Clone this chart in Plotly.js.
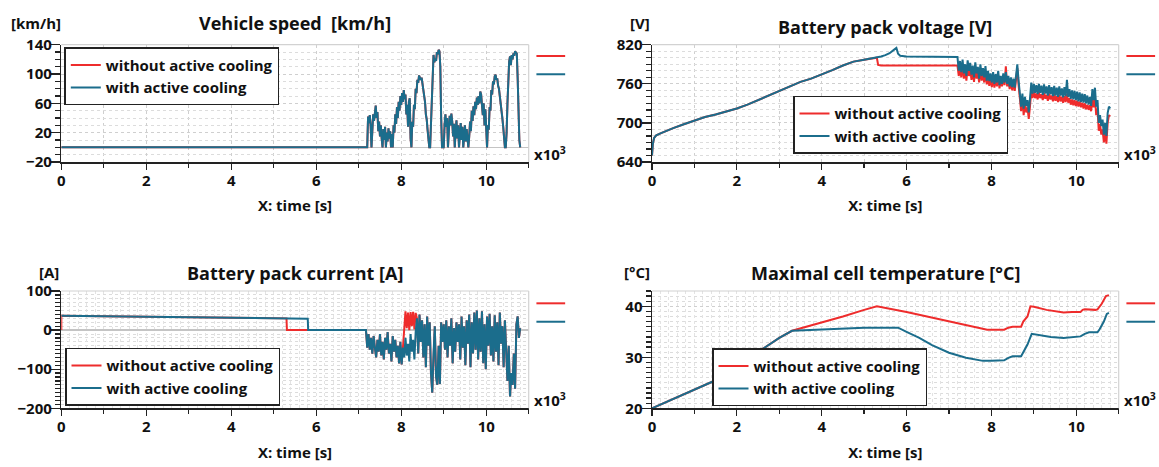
<!DOCTYPE html>
<html>
<head>
<meta charset="utf-8">
<script src="https://cdn.plot.ly/plotly-3.0.1.min.js"></script>
<style>html,body{margin:0;padding:0;background:#fff;}#chart{width:1159px;height:467px;}</style>
</head>
<body>
<div id="chart"></div>
<script>
// ---------------- DATA ----------------
const seriesNames = ['without active cooling', 'with active cooling'];
const timeTicks = [0,2000,4000,6000,8000,10000];
const timeTickText = ['0','2','4','6','8','10'];

// Vehicle speed [km/h] (same drive cycle for both variants)
const speedTime = [0,7190,
 7200,7220,7240,7260,7280,7300,7320,7340,7360,7380,7400,7420,7440,7460,7480,7500,7520,7540,7560,7580,7600,7620,7640,7660,7680,7700,7720,7740,7760,7780,
 7800,7820,7840,7860,7880,7900,7920,7940,7960,7980,8000,8020,8040,8060,8080,8100,8120,8140,8160,8180,8200,8220,
 8240,8260,8280,8300,8320,8340,8360,8380,8400,8420,8440,8460,8480,8500,8520,8540,8560,8580,8600,8620,8640,8660,
 8680,8700,8720,8740,8760,8780,8800,8820,8840,8860,8880,8900,8920,8940,8960,8980,
 9000,9020,9040,9060,9080,9100,9120,9140,9160,9180,9200,9220,9240,9260,9280,9300,9320,9340,9360,9380,9400,9420,9440,9460,9480,9500,9520,9540,9560,9580,
 9600,9620,9640,9660,9680,9700,9720,9740,9760,9780,9800,9820,9840,9860,9880,9900,9920,9940,9960,9980,10000,10020,
 10040,10060,10080,10100,10120,10140,10160,10180,10200,10220,10240,10260,10280,10300,10320,10340,10360,10380,10400,10420,10440,
 10460,10480,10500,10520,10540,10560,10580,10600,10620,10640,10660,10680,10700,10720,10740,10760,10780,10800];
const speedKmh = [0,0,
 0,42,33,44,30,0,28,45,36,52,57,40,48,22,35,15,30,12,0,25,10,28,0,20,8,26,12,22,0,18,
 0,30,20,45,32,55,40,62,50,70,58,74,62,78,66,72,45,58,28,62,67,12,
 0,35,28,58,52,80,74,92,88,98,96,92,95,86,82,68,62,45,38,24,15,0,
 0,30,70,105,126,116,121,118,130,127,133,131,110,40,0,0,
 0,30,45,28,40,0,25,43,30,46,35,15,32,0,22,37,12,30,0,20,33,10,28,0,18,30,8,25,12,0,
 15,35,22,50,36,56,44,62,52,68,58,70,60,76,72,62,44,60,30,52,18,0,
 30,24,55,50,78,72,90,86,97,99,92,94,84,80,70,62,50,40,28,15,0,
 0,20,60,95,117,124,112,126,120,128,125,131,130,128,95,50,10,0];

// Common time grid for the drive part (s)
const driveTime = [7200,7230,7260,7290,7320,7350,7380,7410,7440,7470,
 7500,7530,7560,7590,7620,7650,7680,7710,7740,7770,
 7800,7830,7860,7890,7920,7950,7980,8010,8040,8070,
 8100,8130,8160,8190,8220,8250,8280,8310,8340,8370,
 8400,8430,8460,8490,8520,8550,8580,8610,8640,8670,
 8700,8730,8760,8790,8820,8850,8880,8910,8940,8970,
 9000,9030,9060,9090,9120,9150,9180,9210,9240,9270,
 9300,9330,9360,9390,9420,9450,9480,9510,9540,9570,
 9600,9630,9660,9690,9720,9750,9780,9810,9840,9870,
 9900,9930,9960,9990,10020,10050,10080,10110,10140,10170,
 10200,10230,10260,10290,10320,10350,10380,10410,10440,10470,
 10500,10530,10560,10590,10620,10650,10680,10710,10740,10770,
 10800];

// Battery pack voltage [V]
const voltStartTime = [0,20,50,100,200,300,500,750,1000,1250,1500,1750,2000,2250,2500,2750,3000,3250,3500,3750,4000,4250,4500,4750,5000,5200,5300];
const voltStart = [650,668,677,681,684,687,692,698,704,709,713,717,722,728,735,742,750,757,763,768,774,781,788,794,797,799,800];
const voltRestTimeWithout = [5330,5400,7170];
const voltRestWithout = [789,788,788];
const voltRestTimeWith = [5400,5500,5600,5700,5760,5800,5850,6000,7170];
const voltRestWith = [802,804,807,812,815,806,803,802,801];
const voltDriveWithout = [788,772,785,770,790,768,782,765,786,772,
 784,766,781,763,785,768,778,762,782,765,
 776,762,779,759,772,757,769,755,770,754,
 768,756,773,753,766,756,770,758,787,756,
 765,752,764,750,762,749,768,784,758,735,
 718,738,712,732,716,724,706,726,750,738,
 748,738,745,736,747,738,744,735,746,737,
 743,734,745,736,742,733,744,734,741,732,
 743,733,740,731,741,732,745,731,738,728,
 736,727,735,726,734,725,733,724,731,722,
 730,721,728,720,727,718,736,724,738,712,
 722,688,698,682,690,670,685,668,700,712,
 710];
const voltDriveWith = [801,780,795,778,797,776,790,772,796,780,
 792,774,788,770,793,776,786,768,790,772,
 784,770,787,765,780,764,776,762,778,760,
 775,762,780,758,772,760,776,762,778,760,
 772,756,770,755,768,754,775,790,765,740,
 725,745,722,740,726,735,716,738,762,745,
 760,746,758,744,760,746,757,743,759,745,
 756,742,758,744,755,741,757,742,754,740,
 756,742,753,739,755,741,766,740,752,737,
 750,736,749,735,748,733,747,732,745,731,
 744,730,742,728,740,726,752,735,754,725,
 735,700,712,695,705,682,700,680,715,725,
 722];

// Battery pack current [A]
const curStartTimeWithout = [0,1,2000,4000,5300,5310,7170];
const curStartWithout = [0,37,34,31.5,30,0,0];
const curStartTimeWith = [0,2000,4000,5300,5800,5810,7170];
const curStartWith = [37,34,31.5,30,29,0,0];
const curDriveWithout = [-45,-10,-50,-20,-60,-15,-45,-70,-25,-55,
 -10,-65,-30,-75,-20,-50,-5,-60,-35,-80,
 -15,-55,-25,-70,-40,-85,-30,-88,-45,0,
 48,5,45,0,46,10,47,2,44,30,
 -60,40,-30,25,-70,15,-95,35,-40,20,
 -110,-160,-60,10,-120,-140,-40,-138,20,-30,
 15,-50,25,-70,10,-40,30,-85,5,-55,
 20,-30,15,-75,35,-45,10,-90,25,-35,
 40,-95,20,-60,45,-50,50,-75,30,-55,
 48,-85,15,-100,35,-40,42,-65,10,-80,
 38,-55,20,-90,45,-35,10,-95,25,-60,
 -130,-40,-170,-110,-140,-60,-150,15,35,-20,
 5];
const curDriveWith = [-45,-10,-50,-20,-60,-15,-45,-70,-25,-55,
 -10,-65,-30,-75,-20,-50,-5,-60,-35,-80,
 -15,-55,-25,-70,-40,-85,-30,-88,-45,-70,
 -20,-65,-35,-80,-10,-55,-25,-75,-5,30,
 -60,40,-30,25,-70,15,-95,35,-40,20,
 -110,-160,-60,10,-120,-140,-40,-138,20,-30,
 15,-50,25,-70,10,-40,30,-85,5,-55,
 20,-30,15,-75,35,-45,10,-90,25,-35,
 40,-95,20,-60,45,-50,50,-75,30,-55,
 48,-85,15,-100,35,-40,42,-65,10,-80,
 38,-55,20,-90,45,-35,10,-95,25,-60,
 -130,-40,-170,-110,-140,-60,-150,15,35,-20,
 5];

// Maximal cell temperature [°C]
const tempTimeWithout = [0,500,1000,1420,2000,2600,3000,3300,4000,4500,5000,5300,6000,6500,7000,7500,7900,8300,8400,8500,8700,8750,8850,8920,9000,9300,9700,9900,10100,10150,10200,10450,10500,10600,10700,10770];
const tempWithout = [20,21.8,23.6,25.2,28.3,31.7,33.8,35.2,36.8,38.0,39.3,40.0,38.9,38.0,37.0,36.1,35.4,35.4,35.8,36.0,36.0,37.0,38.0,40.0,39.9,39.3,38.8,38.9,38.9,39.3,39.4,39.3,39.4,40.5,42.0,42.2];
const tempTimeWith = [0,500,1000,1420,2000,2600,3000,3300,4000,5000,5400,5800,6000,6300,6600,7000,7400,7800,8000,8300,8400,8500,8700,8750,8850,8950,9100,9400,9700,9900,10100,10200,10300,10500,10550,10650,10720,10770];
const tempWith = [20,21.8,23.6,25.2,28.3,31.7,33.8,35.2,35.5,35.8,35.8,35.8,35.0,33.8,32.4,30.9,29.9,29.3,29.3,29.4,29.9,30.2,30.2,31.0,32.5,34.6,34.4,34.0,33.8,34.0,34.1,34.6,34.9,34.9,35.5,37.0,38.5,38.7];

// ---------------- STYLE ----------------
const FONT = 'Open Sans, Noto Sans, DejaVu Sans, sans-serif';
const RED = '#ee2c2c';
const BLUE = '#1b6d8c';
const INK = '#111111';

const panels = [
  {x:'x',  y:'y',  legend:'legend',  title:'Vehicle speed  [km/h]', unit:'[km/h]'},
  {x:'x2', y:'y2', legend:'legend2', title:'Battery pack voltage [V]', unit:'[V]'},
  {x:'x3', y:'y3', legend:'legend3', title:'Battery pack current [A]', unit:'[A]'},
  {x:'x4', y:'y4', legend:'legend4', title:'Maximal cell temperature [°C]', unit:'[°C]'}
];

function tr(p, idx, xs, ys, grp) {
  return {
    type:'scatter', mode:'lines', x:xs, y:ys, xaxis:p.x, yaxis:p.y,
    name:seriesNames[idx], legend:p.legend, legendgroup:grp,
    line:{color: idx===0 ? RED : BLUE, width:2}, hoverinfo:'skip'
  };
}

const traces = [
  tr(panels[0],0,speedTime,speedKmh,'a0'),
  tr(panels[0],1,speedTime,speedKmh,'a1'),
  tr(panels[1],0,voltStartTime.concat(voltRestTimeWithout,driveTime),voltStart.concat(voltRestWithout,voltDriveWithout),'b0'),
  tr(panels[1],1,voltStartTime.concat(voltRestTimeWith,driveTime),voltStart.concat(voltRestWith,voltDriveWith),'b1'),
  tr(panels[2],0,curStartTimeWithout.concat(driveTime),curStartWithout.concat(curDriveWithout),'c0'),
  tr(panels[2],1,curStartTimeWith.concat(driveTime),curStartWith.concat(curDriveWith),'c1'),
  tr(panels[3],0,tempTimeWithout,tempWithout,'d0'),
  tr(panels[3],1,tempTimeWith,tempWith,'d1'),
  // empty helpers so the fine-grid overlay axes of the lower panels exist
  {type:'scatter', mode:'lines', x:[], y:[], xaxis:'x5', yaxis:'y3', showlegend:false, hoverinfo:'skip'},
  {type:'scatter', mode:'lines', x:[], y:[], xaxis:'x6', yaxis:'y4', showlegend:false, hoverinfo:'skip'}
];

const W = 1159, H = 467;
const colX = [[61.3,528.7],[652,1118.7],[61.3,528.7],[652,1118.7]];
const rowY = [[44.7,162],[44.7,162],[291,408.3],[291,408.3]];
const yRanges = [[-20,140],[640,820],[-200,100],[20,43]];
const yDtick = [40,60,100,10];
const yMinor = [10,10,10,1];

const tickFont = {family:FONT, size:15, color:INK, weight:700};
const layout = {
  width:W, height:H, margin:{l:0,r:0,t:0,b:0},
  paper_bgcolor:'#ffffff', plot_bgcolor:'#ffffff',
  showlegend:true, annotations:[], shapes:[]
};

panels.forEach((p,i) => {
  const sx = i===0 ? '' : String(i+1);
  const isBottom = i >= 2;
  layout['xaxis'+sx] = {
    domain:[colX[i][0]/W, colX[i][1]/W], anchor:p.y, range:[0,11000],
    tickmode:'array', tickvals:timeTicks, ticktext:timeTickText,
    ticks:'outside', ticklen:6, tickwidth:1.3, tickcolor:'#222',
    showline:true, linecolor:'#222', linewidth:1.5,
    showgrid:true, gridcolor:'#cfcfcf', griddash:'dot', gridwidth:1,
    minor:{dtick:1000, tick0:0, ticks:'outside', ticklen:4, tickwidth:1.3, tickcolor:'#222', showgrid:true, gridcolor:'#cfcfcf', griddash:'dot'},
    zeroline:false, tickfont:tickFont, ticklabelstandoff:-2, fixedrange:true,
    title:{text:'X: time [s]', font:{family:FONT, size:15, color:INK, weight:700}, standoff:12}
  };
  layout['yaxis'+sx] = {
    domain:[1-rowY[i][1]/H, 1-rowY[i][0]/H], anchor:p.x, range:yRanges[i],
    tick0:yRanges[i][0], dtick:yDtick[i],
    ticks:'outside', ticklen:9, tickwidth:1.3, tickcolor:'#222',
    showline:true, linecolor:'#222', linewidth:1.5,
    showgrid:true, gridcolor:'#cfcfcf', griddash:'dot', gridwidth:1,
    zeroline:(i===0||i===2), zerolinecolor:'#c4c4c4', zerolinewidth:1.5,
    minor:{dtick:yMinor[i], ticks:'outside', ticklen:5, tickcolor:'#222', showgrid:true, gridcolor:'#dcdcdc', griddash:'dot'},
    tickfont:tickFont, ticklabelstandoff:-4, fixedrange:true
  };
  // light frame on top and right
  layout.shapes.push({type:'line', xref:'x'+sx+' domain', yref:'y'+sx+' domain', x0:0, x1:1, y0:1, y1:1, line:{color:'#d2d2d2', width:1.2}});
  layout.shapes.push({type:'line', xref:'x'+sx+' domain', yref:'y'+sx+' domain', x0:1, x1:1, y0:0, y1:1, line:{color:'#d2d2d2', width:1.2}});
  // curve markers at right
  const top = isBottom ? 0.895 : 0.9037, low = isBottom ? 0.738 : 0.748;
  layout.shapes.push({type:'line', xref:'x'+sx+' domain', yref:'y'+sx+' domain', x0:1.0165, x1:1.078, y0:top, y1:top, line:{color:RED, width:2}});
  layout.shapes.push({type:'line', xref:'x'+sx+' domain', yref:'y'+sx+' domain', x0:1.0165, x1:1.078, y0:low, y1:low, line:{color:BLUE, width:2}});
  // x10^3
  layout.annotations.push({xref:'x'+sx+' domain', yref:'y'+sx+' domain', x:1.006, y:0.075, xanchor:'left', yanchor:'middle',
    text:'x10<sup>3</sup>', showarrow:false, font:{family:FONT, size:15, color:INK, weight:700}});
});

// fine dotted vertical grid of the lower panels
[['xaxis5','x3','y3'],['xaxis6','x4','y4']].forEach(a => {
  layout[a[0]] = {overlaying:a[1], anchor:a[2], range:[0,11000], dtick:200, tick0:0,
    showgrid:true, gridcolor:'#e3e3e3', griddash:'dot', gridwidth:1,
    showticklabels:false, ticks:'', showline:false, zeroline:false, fixedrange:true};
});

// Titles and unit labels
const titlePos = [[295,22.7],[885,26.7],[295,273],[885,273]];
const unitPos = [[36,22.7],[640,23.3],[49,272],[637,271.7]];
panels.forEach((p,i) => {
  layout.annotations.push({xref:'paper', yref:'paper', x:titlePos[i][0]/W, y:1-titlePos[i][1]/H, xanchor:'center', yanchor:'middle',
    text:p.title, showarrow:false, font:{family:FONT, size:18, color:INK, weight:700}});
  layout.annotations.push({xref:'paper', yref:'paper', x:unitPos[i][0]/W, y:1-unitPos[i][1]/H, xanchor:'center', yanchor:'middle',
    text:p.unit, showarrow:false, font:{family:FONT, size:15, color:INK, weight:700}});
});

// Legends
const legendPos = [[64.3,47.3],[793,95.7],[65,347.7],[712,348.3]];
panels.forEach((p,i) => {
  layout[p.legend] = {
    x:legendPos[i][0]/W, y:1-legendPos[i][1]/H, xref:'paper', yref:'paper', xanchor:'left', yanchor:'top',
    bgcolor:'#ffffff', bordercolor:'#222', borderwidth:1.5,
    font:{family:FONT, size:15, color:INK, weight:700},
    tracegroupgap:4, itemwidth:30, traceorder:'normal'
  };
});

Plotly.newPlot('chart', traces, layout, {displayModeBar:false, staticPlot:true});
</script>
</body>
</html>
